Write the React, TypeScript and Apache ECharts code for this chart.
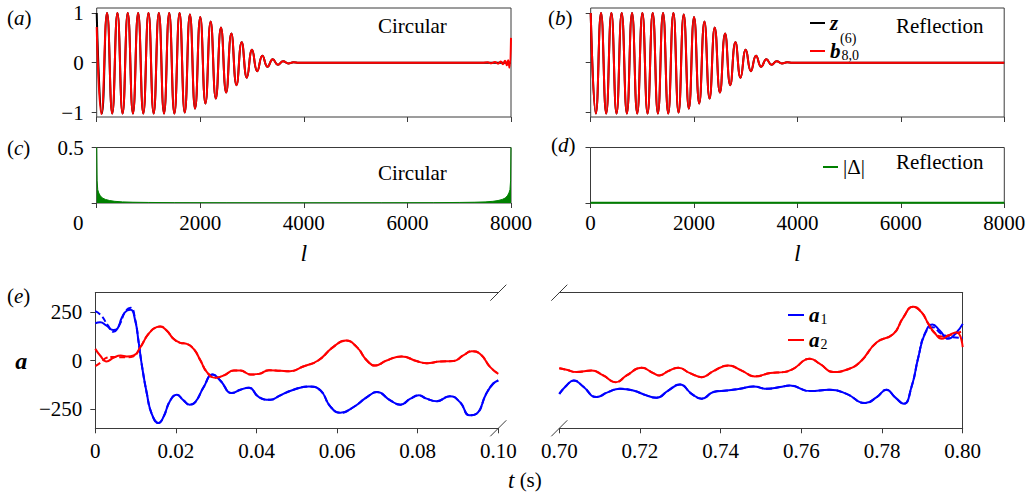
import React, { useEffect, useRef } from "react";
import * as echarts from "echarts";

// ---------- data: panels (a),(b) — extrema of the signal z and its reconstruction b ----------
const extremaL = [0, 100, 200, 300, 400, 500, 600, 700, 800, 900, 1000, 1100, 1200, 1300, 1400, 1500, 1600,
  1700, 1800, 1900, 2000, 2100, 2200, 2300, 2400, 2500, 2600, 2700, 2800, 2900, 3000, 3100, 3200, 3300,
  3400, 3500, 3600, 3700, 3800, 3900, 8000];
const zValues = [1.0, -1.02, 1.0, -1.02, 1.0, -1.02, 1.0, -1.02, 1.0, -1.02, 1.0, -1.02, 1.0, -1.02, 1.0, -1.02, 1.0,
  -1.0, 0.97, -0.92, 0.92, -0.82, 0.83, -0.72, 0.71, -0.6, 0.59, -0.45, 0.41, -0.3, 0.26, -0.17, 0.14, -0.08,
  0.07, -0.04, 0.03, -0.015, 0.008, 0, 0];
// circular reconstruction differs at the two ends
const bCircHeadL = [0, 90];
const bCircHeadV = [0.72, -1.03];
const bCircTailL = [7450, 7550, 7620, 7690, 7750, 7800, 7845, 7885, 7920, 7945, 7968, 8000];
const bCircTailV = [0, 0.008, -0.01, 0.014, -0.02, 0.025, -0.03, 0.04, -0.05, 0.05, -0.1, 0.5];

// ---------- data: panels (c),(d) — |Δ| ----------
const deltaCircL = [0, 8, 20, 40, 70, 110, 170, 250, 350, 500, 700, 1000, 1500, 2500, 4000, 5500, 6500, 7000,
  7300, 7500, 7650, 7750, 7830, 7890, 7930, 7960, 7980, 7992, 8000];
const deltaCircV = [0.5, 0.2, 0.12, 0.09, 0.065, 0.045, 0.032, 0.022, 0.015, 0.01, 0.007, 0.005, 0.003, 0.002,
  0.0015, 0.002, 0.003, 0.005, 0.007, 0.01, 0.015, 0.022, 0.032, 0.045, 0.065, 0.09, 0.12, 0.2, 0.5];
const deltaReflL = [0, 8000];
const deltaReflV = [0.002, 0.002];

// ---------- data: panel (e) — a1, a2 (solid) and reconstructions (dashed) ----------
const a1Left = [[0, 192], [0.0012, 197], [0.0028, 180], [0.0045, 157], [0.0055, 165], [0.0066, 222], [0.0078, 257],
  [0.0088, 262], [0.0099, 206], [0.0107, 103], [0.0115, -17], [0.0128, -172], [0.014, -275], [0.0157, -323],
  [0.0169, -292], [0.0186, -206], [0.0202, -177], [0.0219, -206], [0.0234, -228], [0.0248, -215], [0.0269, -137],
  [0.0291, -72], [0.031, -103], [0.0339, -168], [0.036, -151], [0.0381, -141], [0.0406, -189], [0.0434, -203],
  [0.0459, -180], [0.0492, -151], [0.053, -134], [0.0559, -155], [0.0583, -237], [0.0608, -270], [0.0641, -240],
  [0.0674, -189], [0.0699, -163], [0.0732, -206], [0.0757, -228], [0.0782, -197], [0.0803, -180], [0.0822, -197],
  [0.0847, -210], [0.088, -184], [0.0905, -215], [0.0929, -283], [0.0946, -275], [0.097, -172], [0.0987, -120],
  [0.1, -103]];
const a1LeftDashedHead = [[0, 255], [0.0015, 232], [0.003, 185], [0.0045, 148], [0.006, 185], [0.0075, 255],
  [0.0088, 272], [0.0099, 210]];
const a2Left = [[0, 60], [0.0012, 26], [0.0028, -5], [0.0045, 14], [0.0063, 26], [0.0078, 21], [0.0095, 26],
  [0.0112, 69], [0.0132, 137], [0.0152, 172], [0.0161, 175], [0.0177, 155], [0.0194, 112], [0.0211, 91],
  [0.0227, 86], [0.0244, 60], [0.0261, 0], [0.0277, -60], [0.0298, -89], [0.0319, -77], [0.0344, -52],
  [0.036, -52], [0.0385, -72], [0.0406, -69], [0.0431, -50], [0.0459, -53], [0.0483, -55], [0.0516, -31],
  [0.0553, 0], [0.059, 69], [0.0622, 103], [0.0649, 69], [0.0674, 0], [0.0694, -26], [0.0723, 0], [0.076, 21],
  [0.0797, -3], [0.0822, -14], [0.0855, -5], [0.0888, -3], [0.0913, 26], [0.0934, 48], [0.0955, 34],
  [0.098, -34], [0.1, -69]];
const a2LeftDashedHead = [[0, -29], [0.0015, -8], [0.0028, 14], [0.0045, 18], [0.0063, 17], [0.0078, 17],
  [0.0095, 22]];
const a1Right = [[0.7, -172], [0.7018, -129], [0.7036, -103], [0.7059, -134], [0.7092, -189], [0.7121, -163],
  [0.715, -146], [0.7183, -155], [0.7216, -180], [0.7241, -192], [0.727, -155], [0.7299, -124], [0.7328, -172],
  [0.7353, -197], [0.7382, -163], [0.7415, -155], [0.7448, -146], [0.7481, -134], [0.7514, -146], [0.7547, -137],
  [0.7572, -129], [0.7621, -158], [0.767, -151], [0.7712, -172], [0.7758, -220], [0.7787, -189], [0.7811, -151],
  [0.7832, -189], [0.7854, -223], [0.7873, -137], [0.789, 17], [0.7906, 137], [0.7925, 186], [0.7943, 155],
  [0.7964, 112], [0.7985, 146], [0.8, 189]];
const a1RightDashedTail = [[0.7925, 172], [0.7948, 137], [0.7973, 120], [0.8, 117]];
const a2Right = [[0.7, -40], [0.7018, -48], [0.7043, -60], [0.708, -52], [0.7109, -77], [0.714, -112],
  [0.7167, -77], [0.7204, -38], [0.7233, -65], [0.7248, -77], [0.727, -55], [0.7295, -38], [0.7324, -65],
  [0.7353, -86], [0.7382, -55], [0.7419, -26], [0.7452, -52], [0.7485, -82], [0.7523, -65], [0.7556, -60],
  [0.758, -43], [0.7621, 9], [0.7646, -17], [0.7679, -60], [0.7712, -48], [0.7745, -9], [0.7787, 94],
  [0.7828, 137], [0.7853, 223], [0.7877, 278], [0.7898, 249], [0.7915, 189], [0.7931, 141], [0.7948, 112],
  [0.7964, 129], [0.7985, 146], [0.8, 69]];
const a2RightDashedTail = [[0.7948, 124], [0.7973, 134], [0.8, 151]];

// ---------- ticks ----------
const lTicks = [0, 2000, 4000, 6000, 8000];
const zTicks = [-1, 0, 1];
const deltaTicks = [0, 0.5];
const deltaLabels = [0.5];
const tTicksLeft = [0, 0.02, 0.04, 0.06, 0.08, 0.1];
const tTicksRight = [0.7, 0.72, 0.74, 0.76, 0.78, 0.8];
const aTicks = [-250, 0, 250];

const FONT = "Liberation Serif";
const AX = "#3a3a3a";
const FS = 21;

const GA = { left: 96.7, top: 8, width: 414.3, height: 109 };
const GB = { left: 590.7, top: 8, width: 413.5, height: 109 };
const GC = { left: 96.7, top: 147.5, width: 414.3, height: 55.5 };
const GD = { left: 590.5, top: 147.5, width: 413.8, height: 55.5 };
const GEL = { left: 95.3, top: 292.7, width: 403, height: 135.6 };
const GER = { left: 559.3, top: 292.7, width: 403.4, height: 135.6 };

const pairs = (xs: number[], ys: number[]) => xs.map((x, i) => [x, ys[i]]);
const minus = (s: string) => s.replace("-", "\u2212");
const labelStyle = { fontFamily: FONT, fontSize: FS, color: "#000" };

function lAxis(gridIndex: number, labels: boolean, shiftZero: boolean) {
  return {
    type: "value", gridIndex, min: 0, max: 8000,
    axisLine: { show: false, onZero: false },
    axisTick: { show: true, length: 5, customValues: lTicks, lineStyle: { color: AX } },
    axisLabel: {
      show: labels, customValues: lTicks, margin: 9, ...labelStyle,
      formatter: (v: number) => (v === 0 && shiftZero ? "{z|0}" : String(v)),
      rich: { z: { fontFamily: FONT, fontSize: FS, color: "#000", padding: [0, 37, 0, 0] } },
    },
    splitLine: { show: false },
    name: labels ? "l" : "", nameLocation: "middle", nameGap: 38,
    nameTextStyle: { fontFamily: FONT, fontSize: 24, fontStyle: "italic", color: "#000" },
  };
}

function yAxisBox(gridIndex: number, min: number, max: number, ticks: number[], labels: number[] | null) {
  return {
    type: "value", gridIndex, min, max,
    axisLine: { show: false, onZero: false },
    axisTick: { show: true, length: 5, customValues: ticks, lineStyle: { color: AX } },
    axisLabel: {
      show: !!labels, customValues: labels || ticks, margin: 13, ...labelStyle,
      formatter: (v: number) => minus(String(v)),
    },
    splitLine: { show: false },
  };
}

function tAxis(gridIndex: number, min: number, max: number, ticks: number[]) {
  return {
    type: "value", gridIndex, min, max,
    axisLine: { show: true, onZero: false, lineStyle: { color: AX, width: 1 } },
    axisTick: { show: true, length: 5, customValues: ticks, lineStyle: { color: AX } },
    axisLabel: {
      show: true, customValues: ticks, margin: 12, ...labelStyle,
      formatter: (v: number) => (v === 0 ? "0" : v.toFixed(2)),
    },
    splitLine: { show: false },
  };
}

function topLine(gridIndex: number, min: number, max: number) {
  return {
    type: "value", gridIndex, min, max, position: "top",
    axisLine: { show: true, onZero: false, lineStyle: { color: AX, width: 1 } },
    axisTick: { show: false }, axisLabel: { show: false }, splitLine: { show: false },
  };
}

function line(name: string, x: number, y: number, data: number[][], color: string, opts: any = {}) {
  return {
    type: "line", name, xAxisIndex: x, yAxisIndex: y, data, smooth: 0.5, symbol: "none",
    showSymbol: false, lineStyle: { color, width: 2, ...(opts.lineStyle || {}) }, itemStyle: { color },
    z: opts.z || 2, areaStyle: opts.areaStyle, silent: true,
  };
}

function breakMark(cx: number, cy: number) {
  return {
    type: "line", shape: { x1: cx - 8, y1: cy + 8, x2: cx + 8, y2: cy - 8 },
    style: { stroke: AX, lineWidth: 1 }, silent: true,
  };
}

function txt(text: string, x: number, y: number, extra: any = {}) {
  return {
    type: "text", x, y, silent: true,
    style: {
      text, fontFamily: FONT, fontSize: FS, fill: "#000", verticalAlign: "middle", align: "left",
      ...extra,
    },
  };
}

function panelLabel(letter: string, x: number, y: number) {
  return txt("({i|" + letter + "})", x, y, {
    rich: { i: { fontFamily: FONT, fontSize: FS, fontStyle: "italic", fill: "#000" } },
  });
}

export default function App() {
  const ref = useRef<HTMLDivElement>(null);
  useEffect(() => {
    if (!ref.current) return;
    const chart = echarts.init(ref.current, null, { renderer: "svg" });

    const zData = pairs(extremaL, zValues);
    const bCirc = [...pairs(bCircHeadL, bCircHeadV), ...zData.slice(2, 40), ...pairs(bCircTailL, bCircTailV)];
    const a1LeftDashed = [...a1LeftDashedHead, ...a1Left.filter((p) => p[0] > 0.0099)];
    const a2LeftDashed = [...a2LeftDashedHead, ...a2Left.filter((p) => p[0] > 0.0095)];
    const a1RightDashed = [...a1Right.filter((p) => p[0] < 0.7925), ...a1RightDashedTail];
    const a2RightDashed = [...a2Right.filter((p) => p[0] < 0.7948), ...a2RightDashedTail];

    const richBI = { fontFamily: FONT, fontSize: FS, fontStyle: "italic", fontWeight: "bold", color: "#000", lineHeight: 22 };
    const richSub = { fontFamily: FONT, fontSize: 14, color: "#000", verticalAlign: "bottom", lineHeight: 22, padding: [8, 0, 0, 1] };

    const option: any = {
      animation: false,
      backgroundColor: "#fff",
      textStyle: { fontFamily: FONT },
      grid: [
        { ...GA, show: true, borderColor: AX, borderWidth: 1, backgroundColor: "transparent" },
        { ...GB, show: true, borderColor: AX, borderWidth: 1, backgroundColor: "transparent" },
        { ...GC, show: true, borderColor: AX, borderWidth: 1, backgroundColor: "transparent" },
        { ...GD, show: true, borderColor: AX, borderWidth: 1, backgroundColor: "transparent" },
        { ...GEL, show: false },
        { ...GER, show: false },
      ],
      xAxis: [
        lAxis(0, false, false),
        lAxis(1, false, false),
        lAxis(2, true, true),
        lAxis(3, true, false),
        tAxis(4, 0, 0.1, tTicksLeft),
        tAxis(5, 0.7, 0.8, tTicksRight),
        topLine(4, 0, 0.1),
        topLine(5, 0.7, 0.8),
      ],
      yAxis: [
        yAxisBox(0, -1.09, 1.1, zTicks, zTicks),
        yAxisBox(1, -1.09, 1.1, zTicks, null),
        yAxisBox(2, 0, 0.5, deltaTicks, deltaLabels),
        yAxisBox(3, 0, 0.5, deltaTicks, null),
        {
          type: "value", gridIndex: 4, min: -350, max: 350,
          axisLine: { show: true, onZero: false, lineStyle: { color: AX, width: 1 } },
          axisTick: { show: true, length: 5, customValues: aTicks, lineStyle: { color: AX } },
          axisLabel: { show: true, customValues: aTicks, margin: 13, ...labelStyle, formatter: (v: number) => minus(String(v)) },
          splitLine: { show: false },
          name: "a", nameLocation: "middle", nameGap: 68, nameRotate: 0,
          nameTextStyle: { fontFamily: FONT, fontSize: 24, fontStyle: "italic", fontWeight: "bold", color: "#000" },
        },
        {
          type: "value", gridIndex: 5, min: -350, max: 350, position: "right",
          axisLine: { show: true, onZero: false, lineStyle: { color: AX, width: 1 } },
          axisTick: { show: false }, axisLabel: { show: false }, splitLine: { show: false },
        },
      ],
      legend: [
        {
          left: 805, top: 7, orient: "vertical", data: ["z", "b"], icon: "rect", itemWidth: 15, itemHeight: 2,
          itemGap: 6, selectedMode: false,
          formatter: (n: string) => (n === "z" ? "{bi|z}" : "{bi|b}{sub|8,0}"),
          textStyle: { ...labelStyle, lineHeight: 22, rich: { bi: richBI, sub: richSub } },
        },
        {
          left: 818, top: 151, orient: "vertical", data: ["|Δ|"], icon: "rect", itemWidth: 15, itemHeight: 2,
          selectedMode: false, textStyle: { ...labelStyle, lineHeight: 22 },
        },
        {
          left: 783, top: 299, orient: "vertical", data: ["a1", "a2"], icon: "rect", itemWidth: 16, itemHeight: 2,
          itemGap: 3, selectedMode: false,
          formatter: (n: string) => "{bi|a}{sub|" + n.slice(1) + "}",
          textStyle: { ...labelStyle, lineHeight: 22, rich: { bi: richBI, sub: richSub } },
        },
      ],
      series: [
        line("z", 0, 0, zData, "#000"),
        line("b", 0, 0, bCirc, "#ff0000", { z: 3 }),
        line("z", 1, 1, zData, "#000"),
        line("b", 1, 1, zData, "#ff0000", { z: 3 }),
        { ...line("|Δ|", 2, 2, pairs(deltaCircL, deltaCircV), "#008000", { lineStyle: { width: 1 }, areaStyle: { color: "#008000", opacity: 1 } }), smooth: false },
        { ...line("|Δ|", 3, 3, pairs(deltaReflL, deltaReflV), "#008000"), smooth: false },
        line("a1 rec", 4, 4, a1LeftDashed, "#0000ff", { lineStyle: { type: [6, 3], width: 2 } }),
        line("a2 rec", 4, 4, a2LeftDashed, "#ff0000", { lineStyle: { type: [6, 3], width: 2 } }),
        line("a1", 4, 4, a1Left, "#0000ff", { z: 3 }),
        line("a2", 4, 4, a2Left, "#ff0000", { z: 3 }),
        line("a1 rec", 5, 5, a1RightDashed, "#0000ff", { lineStyle: { type: [6, 3], width: 2 } }),
        line("a2 rec", 5, 5, a2RightDashed, "#ff0000", { lineStyle: { type: [6, 3], width: 2 } }),
        line("a1", 5, 5, a1Right, "#0000ff", { z: 3 }),
        line("a2", 5, 5, a2Right, "#ff0000", { z: 3 }),
      ],
      graphic: [
        panelLabel("a", 7, 18),
        panelLabel("b", 548, 18),
        panelLabel("c", 7, 148),
        panelLabel("d", 551, 145),
        panelLabel("e", 7, 296),
        txt("Circular", 378, 26),
        txt("Reflection", 896, 26),
        txt("Circular", 378, 173),
        txt("Reflection", 896, 162),
        txt("(6)", 840, 38, { fontSize: 14 }),
        txt("{i|t} (s)", 508, 480, {
          rich: { i: { fontFamily: FONT, fontSize: 23, fontStyle: "italic", fill: "#000" } },
        }),
        breakMark(GEL.left + GEL.width, GEL.top),
        breakMark(GEL.left + GEL.width, GEL.top + GEL.height),
        breakMark(GER.left, GER.top),
        breakMark(GER.left, GER.top + GER.height),
      ],
    };
    chart.setOption(option);
    return () => chart.dispose();
  }, []);
  return <div ref={ref} style={{ position: "absolute", left: 0, top: 0, width: 1033, height: 496 }} />;
}
